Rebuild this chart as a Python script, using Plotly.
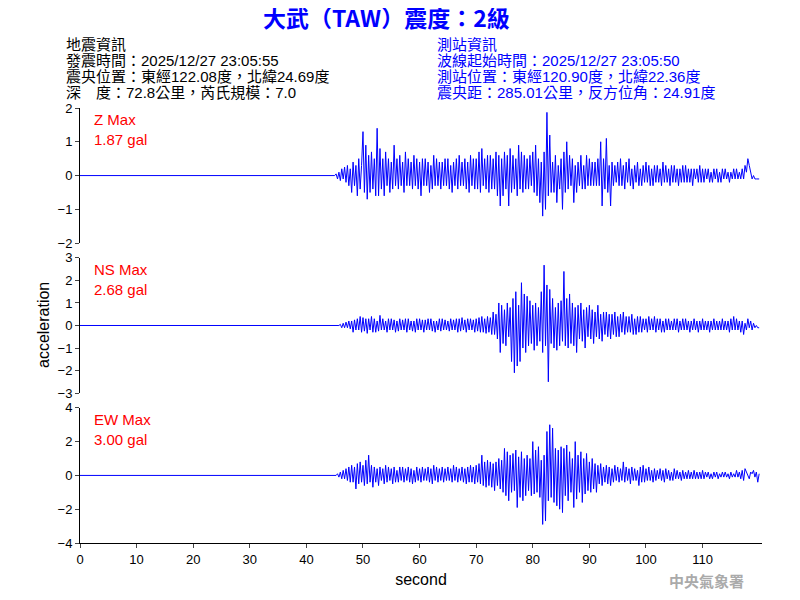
import plotly.graph_objects as go
from plotly.subplots import make_subplots

# time grid: 0-45 s quiet, then samples every 0.25 s from 45 to 120 s
t0 = 45.0
dt = 0.25

z_vals = [
    0, 0.05, -0.1, 0.1, -0.15, 0.2, -0.1, 0.25, -0.2, 0.3, -0.3, 0.2, -0.5, 0.4, -0.3, 0.3,
    -0.6, 0.5, -0.4, 0.3, 1.3, -0.5, 0.9, -0.7, 0.6, -0.5, 0.7, -0.4, 0.5, -0.6, 1.4, -0.6,
    0.8, -0.4, 0.5, -0.6, 0.7, -0.3, 0.5, -0.5, 0.4, -0.4, 0.9, -0.3, 0.5, -0.4, 0.6, -0.3,
    0.4, -0.5, 0.7, -0.3, 0.5, -0.3, 0.4, -0.4, 0.6, -0.3, 0.5, -0.4, 0.4, -0.6, 0.5, -0.3,
    0.5, -0.3, 0.4, -0.5, 0.3, -0.4, 0.6, -0.3, 0.5, -0.3, 0.4, -0.4, 0.4, -0.3, 0.5, -0.3,
    0.5, -0.4, 0.3, -0.5, 0.4, -0.3, 0.5, -0.4, 0.6, -0.3, 0.4, -0.3, 0.5, -0.4, 0.4, -0.5,
    0.6, -0.3, 0.5, -0.4, 0.5, -0.4, 0.7, -0.5, 0.8, -0.3, 0.5, -0.4, 0.6, -0.5, 0.6, -0.4,
    0.5, -0.4, 0.7, -0.6, 0.6, -0.9, 0.5, -0.6, 0.7, -0.4, 0.6, -0.9, 0.8, -0.5, 0.6, -0.4,
    0.5, -0.6, 0.9, -0.4, 0.7, -0.5, 0.6, -0.4, 0.5, -0.4, 0.6, -0.3, 0.7, -0.5, 0.9, -0.6,
    0.5, -0.8, 0.4, -1.2, 0.7, -1.0, 1.87, -0.6, 1.2, -0.5, 0.4, -0.5, 0.6, -0.8, 0.3, -0.4,
    0.5, -1.0, 0.7, -0.5, 1.0, -0.4, 0.6, -0.3, 0.5, -0.8, 0.3, -0.5, 0.4, -0.3, 0.6, -0.4,
    0.3, -0.4, 0.6, -0.3, 0.5, -0.3, 0.4, -0.3, 0.4, -0.3, 0.5, -0.3, 1.0, -0.9, 0.5, -0.4,
    1.1, -0.5, 0.3, -0.9, 0.4, -0.3, 0.3, -0.2, 0.4, -0.3, 0.5, -0.3, 0.3, -0.4, 0.4, -0.2,
    0.5, -0.3, 0.2, -0.4, 0.3, -0.2, 0.4, -0.3, 0.2, -0.3, 0.3, -0.2, 0.4, -0.2, 0.3, -0.3,
    0.2, -0.3, 0.3, -0.2, 0.3, -0.2, 0.2, -0.3, 0.4, -0.2, 0.3, -0.2, 0.2, -0.3, 0.3, -0.2,
    0.3, -0.2, 0.2, -0.3, 0.2, -0.2, 0.3, -0.2, 0.3, -0.2, 0.2, -0.2, 0.2, -0.3, 0.2, -0.1,
    0.2, -0.2, 0.3, -0.2, 0.2, -0.2, 0.2, -0.1, 0.2, -0.2, 0.1, -0.2, 0.2, -0.1, 0.2, -0.2,
    0.1, -0.2, 0.2, -0.1, 0.2, -0.1, 0.1, -0.2, 0.1, -0.1, 0.2, -0.1, 0.2, -0.1, 0.1, -0.1,
    0.2, -0.1, 0.3, 0.1, 0.5, 0.3, 0.1, -0.1, 0.0, -0.1, -0.1, -0.1, -0.1,
]

ns_vals = [
    0, 0, 0, 0, 0.05, -0.1, 0.1, -0.1, 0.15, -0.1, 0.2, -0.15, 0.2, -0.3, 0.25, -0.2,
    0.3, -0.2, 0.4, -0.3, 0.35, -0.25, 0.3, -0.35, 0.3, -0.2, 0.4, -0.3, 0.3, -0.3, 0.2, -0.25,
    0.45, -0.2, 0.3, -0.2, 0.2, -0.3, 0.3, -0.2, 0.3, -0.2, 0.25, -0.3, 0.2, -0.25, 0.3, -0.2,
    0.25, -0.2, 0.3, -0.3, 0.3, -0.2, 0.2, -0.25, 0.2, -0.3, 0.3, -0.2, 0.3, -0.2, 0.25, -0.3,
    0.25, -0.2, 0.3, -0.2, 0.3, -0.25, 0.2, -0.3, 0.2, -0.2, 0.3, -0.25, 0.3, -0.2, 0.25, -0.2,
    0.2, -0.25, 0.3, -0.2, 0.25, -0.2, 0.3, -0.3, 0.3, -0.25, 0.35, -0.2, 0.25, -0.3, 0.3, -0.2,
    0.3, -0.2, 0.25, -0.3, 0.3, -0.25, 0.35, -0.3, 0.4, -0.3, 0.3, -0.35, 0.4, -0.3, 0.35, -0.4,
    0.6, -0.4, 0.5, -0.6, 1.0, -1.2, 0.9, -0.8, 0.7, -0.9, 1.0, -0.5, 0.8, -1.6, 1.2, -2.1,
    1.5, -1.8, 0.9, -1.6, 1.9, -1.0, 1.4, -1.2, 1.3, -0.9, 1.1, -0.8, 0.9, -1.1, 1.0, -0.9,
    0.8, -0.7, 1.5, -1.2, 2.68, -0.9, 1.8, -2.5, 1.6, -0.8, 1.2, -1.0, 0.8, -1.1, 1.0, -0.9,
    1.1, -0.7, 2.4, -0.9, 1.2, -1.0, 1.4, -0.8, 1.0, -0.9, 0.8, -1.2, 0.9, -0.6, 1.0, -0.7,
    0.7, -1.0, 0.8, -0.5, 0.9, -0.6, 0.7, -0.8, 0.6, -0.5, 0.9, -0.6, 0.5, -0.7, 0.6, -0.4,
    0.6, -0.5, 0.5, -0.6, 0.5, -0.4, 0.6, -0.5, 0.4, -0.5, 0.5, -0.3, 0.6, -0.4, 0.4, -0.3,
    0.4, -0.3, 0.5, -0.4, 0.3, -0.4, 0.4, -0.3, 0.4, -0.3, 0.3, -0.2, 0.3, -0.3, 0.4, -0.2,
    0.3, -0.2, 0.4, -0.3, 0.3, -0.2, 0.3, -0.3, 0.2, -0.3, 0.3, -0.2, 0.3, -0.2, 0.2, -0.2,
    0.3, -0.2, 0.3, -0.3, 0.2, -0.2, 0.3, -0.2, 0.3, -0.2, 0.2, -0.3, 0.2, -0.2, 0.3, -0.2,
    0.2, -0.3, 0.2, -0.2, 0.3, -0.2, 0.2, -0.2, 0.2, -0.3, 0.2, -0.2, 0.3, -0.2, 0.2, -0.2,
    0.2, -0.2, 0.3, -0.2, 0.2, -0.2, 0.2, -0.3, 0.3, -0.2, 0.4, -0.2, 0.3, -0.2, 0.2, -0.3,
    0.2, -0.4, 0.1, -0.2, 0.3, -0.1, 0.2, -0.2, 0.1, -0.1, 0.0, -0.1, -0.1,
]

ew_vals = [
    0, 0, 0.1, -0.1, 0.2, -0.2, 0.3, -0.2, 0.4, -0.3, 0.5, -0.4, 0.6, -0.4, 0.5, -0.8,
    0.7, -0.5, 0.8, -0.4, 0.6, -0.6, 0.9, -0.5, 1.2, -0.4, 0.6, -0.7, 0.5, -0.4, 0.4, -0.6,
    0.5, -0.3, 0.4, -0.5, 0.6, -0.4, 0.5, -0.3, 0.4, -0.5, 0.5, -0.4, 0.3, -0.4, 0.5, -0.3,
    0.5, -0.4, 0.4, -0.3, 0.5, -0.4, 0.4, -0.5, 0.3, -0.4, 0.5, -0.3, 0.4, -0.4, 0.5, -0.3,
    0.4, -0.3, 0.5, -0.4, 0.4, -0.5, 0.6, -0.3, 0.5, -0.4, 0.4, -0.3, 0.5, -0.4, 0.4, -0.3,
    0.5, -0.3, 0.4, -0.4, 0.6, -0.3, 0.5, -0.4, 0.4, -0.3, 0.5, -0.4, 0.4, -0.5, 0.5, -0.4,
    0.6, -0.4, 0.5, -0.5, 0.6, -0.4, 0.7, -0.5, 1.2, -0.6, 0.8, -0.7, 0.9, -0.6, 0.8, -0.7,
    0.7, -0.9, 0.8, -0.6, 1.0, -0.8, 0.9, -1.0, 1.6, -1.2, 1.4, -1.5, 1.2, -1.0, 1.3, -0.9,
    1.5, -1.9, 1.1, -1.3, 1.4, -1.5, 1.0, -1.2, 1.2, -0.9, 1.0, -1.2, 2.0, -1.1, 1.5, -1.0,
    1.7, -1.3, 0.9, -2.9, 1.2, -2.7, 2.6, -1.5, 3.0, -1.3, 2.8, -1.6, 1.6, -1.8, 1.5, -2.0,
    1.7, -2.2, 1.6, -1.2, 1.8, -1.5, 1.4, -1.0, 1.0, -1.9, 2.0, -1.4, 1.2, -1.0, 1.4, -1.6,
    1.0, -1.1, 1.3, -0.9, 0.8, -1.0, 1.0, -0.8, 0.7, -1.0, 0.6, -0.5, 0.7, -0.6, 0.5, -0.4,
    0.6, -0.5, 0.5, -0.6, 0.4, -0.4, 0.6, -0.3, 0.5, -0.4, 0.4, -0.3, 0.8, -0.4, 0.5, -0.3,
    0.4, -0.5, 0.5, -0.3, 0.4, -0.3, 0.3, -0.6, 0.5, -0.4, 0.6, -0.4, 0.4, -0.3, 0.5, -0.3,
    0.3, -0.4, 0.4, -0.3, 0.3, -0.2, 0.4, -0.3, 0.3, -0.4, 0.4, -0.2, 0.3, -0.3, 0.2, -0.3,
    0.4, -0.2, 0.3, -0.2, 0.2, -0.3, 0.3, -0.2, 0.2, -0.2, 0.3, -0.2, 0.2, -0.2, 0.3, -0.2,
    0.2, -0.2, 0.2, -0.2, 0.3, -0.2, 0.2, -0.1, 0.2, -0.2, 0.1, -0.2, 0.2, -0.1, 0.2, -0.2,
    0.1, -0.1, 0.2, -0.1, 0.2, -0.1, 0.1, -0.2, 0.2, -0.1, 0.1, -0.1, 0.3, -0.1, 0.2, -0.2,
    0.3, -0.3, 0.4, 0.2, 0.1, -0.2, 0.2, 0.1, 0.3, -0.1, 0.2, -0.4, 0.1,
]

ranges = [2, 3, 4]
tick_steps = [1, 1, 2]
max_labels = ["Z Max<br>1.87 gal", "NS Max<br>2.68 gal", "EW Max<br>3.00 gal"]
x_ticks = list(range(0, 111, 10))

title_text = "大武（TAW）震度：2級"
header_left = ["地震資訊", "發震時間：2025/12/27 23:05:55",
               "震央位置：東經122.08度，北緯24.69度", "深　度：72.8公里，芮氏規模：7.0"]
header_right = ["測站資訊", "波線起始時間：2025/12/27 23:05:50",
                "測站位置：東經120.90度，北緯22.36度", "震央距：285.01公里，反方位角：24.91度"]

FONT = "Liberation Sans, Noto Sans CJK TC, Arial"
PLOT_BOTTOM, PLOT_H, PLOT_L, PLOT_W = 543, 435, 80, 682


def py(p):
    # page pixel row -> paper y
    return (PLOT_BOTTOM - p) / PLOT_H


def px(p):
    return (p - PLOT_L) / PLOT_W


fig = make_subplots(rows=3, cols=1, shared_xaxes=True, vertical_spacing=0.034)

for i, vals in enumerate([z_vals, ns_vals, ew_vals]):
    x = [0, t0 - dt] + [t0 + k * dt for k in range(len(vals))]
    y = [0, 0] + vals
    fig.add_trace(go.Scatter(x=x, y=y, mode="lines", line=dict(color="#0000ff", width=1),
                             showlegend=False), row=i + 1, col=1)
    r = ranges[i]
    fig.update_yaxes(range=[-r, r], dtick=tick_steps[i], row=i + 1, col=1,
                     showgrid=False, zeroline=False, showline=True, linecolor="black",
                     ticks="outside", ticklen=4, tickfont=dict(size=13, color="black"))
    fig.add_annotation(text=max_labels[i], xref="x domain",
                       yref="y domain" if i == 0 else f"y{i+1} domain",
                       x=0.018, y=0.99, xanchor="left", yanchor="top", showarrow=False, align="left",
                       font=dict(size=15, color="red", family=FONT))

fig.update_xaxes(range=[0, 120.5], tickvals=x_ticks, showgrid=False, zeroline=False, showline=True,
                 linecolor="black", ticks="outside", ticklen=4, tickfont=dict(size=13, color="black"))
fig.update_xaxes(showticklabels=False, showline=False, ticks="", row=1, col=1)
fig.update_xaxes(showticklabels=False, showline=False, ticks="", row=2, col=1)
fig.update_xaxes(title=dict(text="second", font=dict(size=16), standoff=8), row=3, col=1)

fig.add_annotation(text="<b>" + title_text + "</b>", xref="paper", yref="paper", x=px(386), y=py(17),
                   xanchor="center", yanchor="middle", showarrow=False,
                   font=dict(size=23, color="#0000ff", family="Noto Sans CJK TC"))
for k, (a, b) in enumerate(zip(header_left, header_right)):
    yy = py(44 + 16 * k)
    fig.add_annotation(text=a, xref="paper", yref="paper", x=px(64), y=yy,
                       xanchor="left", yanchor="middle", showarrow=False,
                       font=dict(size=15, color="black", family=FONT))
    fig.add_annotation(text=b, xref="paper", yref="paper", x=px(435), y=yy,
                       xanchor="left", yanchor="middle", showarrow=False,
                       font=dict(size=15, color="#0000ff", family=FONT))
fig.add_annotation(text="acceleration", xref="paper", yref="paper", x=px(33), y=0.5,
                   textangle=-90, showarrow=False, font=dict(size=16, color="black"))
fig.add_annotation(text="<b>中央氣象署</b>", xref="paper", yref="paper", x=px(746), y=py(580),
                   xanchor="right", yanchor="middle", showarrow=False,
                   font=dict(size=15, color="#aaaaaa", family="Noto Sans CJK TC"))

fig.update_layout(width=800, height=600, margin=dict(l=72, r=46, t=100, b=65),
                  paper_bgcolor="white", plot_bgcolor="white",
                  font=dict(family=FONT, color="black"))

fig.write_html("out.html")
